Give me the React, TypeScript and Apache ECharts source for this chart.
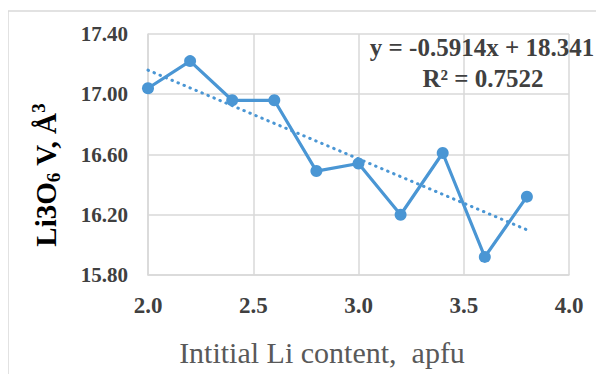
import React, { useEffect, useRef } from "react";
import * as echarts from "echarts";

const liContent = [2.0, 2.2, 2.4, 2.6, 2.8, 3.0, 3.2, 3.4, 3.6, 3.8];
const volume = [17.04, 17.22, 16.96, 16.96, 16.49, 16.54, 16.2, 16.61, 15.92, 16.32];
const trendX = [2.0, 3.8];
const trendY = [17.16, 16.1];
const yTicks = [15.8, 16.2, 16.6, 17.0, 17.4];
const xTicks = [2.0, 2.5, 3.0, 3.5, 4.0];
const equationText = "y = -0.5914x + 18.341";
const r2Text = "R² = 0.7522";
const xTitle = "Intitial Li content,  apfu";

const BLUE = "#4a96d4";
const FONT = "'Liberation Serif', 'Times New Roman', serif";

export default function App() {
  const ref = useRef<HTMLDivElement>(null);
  useEffect(() => {
    if (!ref.current) return;
    const chart = echarts.init(ref.current, undefined, { renderer: "svg" });
    chart.setOption({
      animation: false,
      backgroundColor: "#ffffff",
      grid: { left: 148, right: 35, top: 34, bottom: 107, containLabel: false },
      xAxis: {
        type: "value",
        min: 2,
        max: 4,
        interval: 0.5,
        axisLine: { show: true, lineStyle: { color: "#d9d9d9", width: 1.5 } },
        axisTick: { show: false, customValues: xTicks },
        splitLine: { show: true, lineStyle: { color: "#d9d9d9", width: 1.5 } },
        axisLabel: {
          customValues: xTicks,
          formatter: (v: number) => v.toFixed(1),
          color: "#404040",
          fontWeight: "bold",
          fontFamily: FONT,
          fontSize: 23,
          margin: 19,
        },
      },
      yAxis: {
        type: "value",
        min: 15.8,
        max: 17.4,
        interval: 0.2,
        axisLine: { show: true, lineStyle: { color: "#d9d9d9", width: 1.5 } },
        axisTick: { show: false, customValues: yTicks },
        splitLine: { show: true, lineStyle: { color: "#d9d9d9", width: 1.5 } },
        axisLabel: {
          customValues: yTicks,
          formatter: (v: number) => v.toFixed(2),
          color: "#404040",
          fontWeight: "bold",
          fontFamily: FONT,
          fontSize: 21,
          margin: 20,
        },
      },
      series: [
        {
          type: "line",
          data: liContent.map((x, i) => [x, volume[i]]),
          symbol: "circle",
          symbolSize: 12,
          itemStyle: { color: BLUE },
          lineStyle: { color: BLUE, width: 3.2 },
          z: 3,
        },
        {
          type: "line",
          data: trendX.map((x, i) => [x, trendY[i]]),
          symbol: "none",
          lineStyle: { color: BLUE, width: 3, type: [0.5, 6], cap: "round" },
          z: 2,
        },
      ],
      graphic: [
        {
          type: "rect",
          shape: { x: 8, y: 11, width: 640, height: 420 },
          style: { fill: "none", stroke: "#d9d9d9", lineWidth: 1.5 },
          silent: true,
          z: -10,
        },
        {
          type: "text",
          x: 482,
          y: 47,
          style: {
            text: equationText,
            fill: "#404040",
            font: `bold 25px ${FONT}`,
            align: "center",
            verticalAlign: "middle",
          },
          z: 10,
        },
        {
          type: "text",
          x: 483,
          y: 78,
          style: {
            text: r2Text,
            fill: "#404040",
            font: `bold 25px ${FONT}`,
            align: "center",
            verticalAlign: "middle",
          },
          z: 10,
        },
        {
          type: "text",
          x: 322,
          y: 352,
          style: {
            text: xTitle,
            fill: "#595959",
            font: `30px ${FONT}`,
            align: "center",
            verticalAlign: "middle",
          },
        },
        {
          type: "text",
          x: 46,
          y: 175,
          rotation: Math.PI / 2,
          style: {
            text: "{a|Li3O}{s|6}{a| V, Å}{p|3}",
            align: "center",
            verticalAlign: "middle",
            rich: {
              a: { fontFamily: FONT, fontWeight: "bold", fontSize: 29, color: "#404040", lineHeight: 34 },
              s: { fontFamily: FONT, fontWeight: "bold", fontSize: 19, color: "#404040", verticalAlign: "bottom", lineHeight: 34, padding: [14, 0, 0, 0] },
              p: { fontFamily: FONT, fontWeight: "bold", fontSize: 19, color: "#404040", verticalAlign: "top", lineHeight: 34, padding: [0, 0, 14, 0] },
            },
          },
        },
      ],
    });
    return () => chart.dispose();
  }, []);
  return <div ref={ref} style={{ width: 604, height: 382, margin: -8 }} />;
}
